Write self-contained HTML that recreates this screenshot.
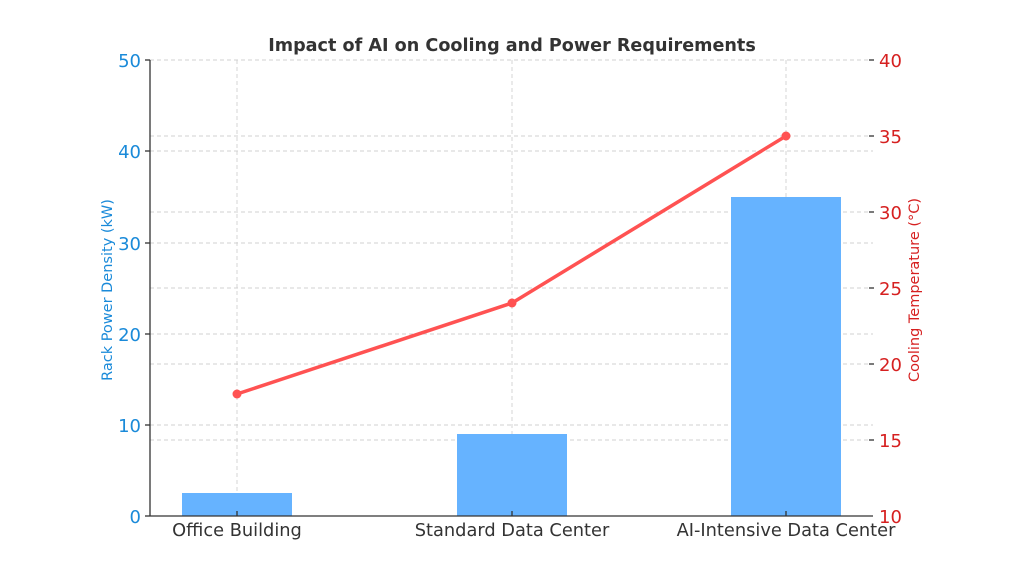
<!DOCTYPE html>
<html><head><meta charset="utf-8"><style>html,body{margin:0;padding:0;background:#fff}</style></head>
<body>
<svg width="1024" height="576" xmlns="http://www.w3.org/2000/svg" font-family="DejaVu Sans, Liberation Sans, sans-serif">
<rect width="1024" height="576" fill="#fff"/>
<g stroke="#d0d0d0" stroke-width="0.9" stroke-dasharray="4,3">
<line x1="150" y1="60" x2="873" y2="60"/>
<line x1="150" y1="151" x2="873" y2="151"/>
<line x1="150" y1="243" x2="873" y2="243"/>
<line x1="150" y1="334" x2="873" y2="334"/>
<line x1="150" y1="425" x2="873" y2="425"/>
<line x1="150" y1="136" x2="873" y2="136"/>
<line x1="150" y1="212" x2="873" y2="212"/>
<line x1="150" y1="288" x2="873" y2="288"/>
<line x1="150" y1="364" x2="873" y2="364"/>
<line x1="150" y1="440" x2="873" y2="440"/>
<line x1="237" y1="60" x2="237" y2="516"/>
<line x1="512" y1="60" x2="512" y2="516"/>
<line x1="786" y1="60" x2="786" y2="516"/>
</g>
<g fill="#66b3ff">
<rect x="182" y="493" width="110" height="23"/>
<rect x="457" y="434" width="110" height="82"/>
<rect x="731" y="197" width="110" height="319"/>
</g>
<polyline points="237,394 512,303 786,136" fill="none" stroke="#ff5252" stroke-width="3.5" stroke-linejoin="round"/>
<g fill="#ff5252"><circle cx="237" cy="394" r="4.5"/><circle cx="512" cy="303" r="4.5"/><circle cx="786" cy="136" r="4.5"/></g>
<g stroke="#333" stroke-width="1.3">
<line x1="150" y1="60" x2="150" y2="516"/>
<line x1="150" y1="516" x2="873" y2="516"/>
<line x1="145" y1="60" x2="150" y2="60"/><line x1="145" y1="151" x2="150" y2="151"/><line x1="145" y1="243" x2="150" y2="243"/><line x1="145" y1="334" x2="150" y2="334"/><line x1="145" y1="425" x2="150" y2="425"/><line x1="145" y1="516" x2="150" y2="516"/>
<line x1="869" y1="60" x2="874" y2="60"/><line x1="869" y1="136" x2="874" y2="136"/><line x1="869" y1="212" x2="874" y2="212"/><line x1="869" y1="288" x2="874" y2="288"/><line x1="869" y1="364" x2="874" y2="364"/><line x1="869" y1="440" x2="874" y2="440"/>
<line x1="237" y1="516" x2="237" y2="511"/><line x1="512" y1="516" x2="512" y2="511"/><line x1="786" y1="516" x2="786" y2="511"/>
</g>
<g fill="#1a8ad9" font-size="18" text-anchor="end">
<text x="141" y="67">50</text><text x="141" y="158">40</text><text x="141" y="250">30</text><text x="141" y="341">20</text><text x="141" y="432">10</text><text x="141" y="523">0</text>
</g>
<g fill="#d62020" font-size="18">
<text x="879" y="67">40</text><text x="879" y="143">35</text><text x="879" y="219">30</text><text x="879" y="295">25</text><text x="879" y="371">20</text><text x="879" y="447">15</text><text x="879" y="523">10</text>
</g>
<g fill="#333" font-size="17.8" text-anchor="middle">
<text x="237" y="536">Office Building</text><text x="512" y="536">Standard Data Center</text><text x="786" y="536">AI-Intensive Data Center</text>
</g>
<text x="512" y="51" font-size="17.6" font-weight="bold" fill="#333" text-anchor="middle">Impact of AI on Cooling and Power Requirements</text>
<text transform="translate(112,290) rotate(-90)" font-size="14.5" fill="#1a8ad9" text-anchor="middle">Rack Power Density (kW)</text>
<text transform="translate(919,290) rotate(-90)" font-size="14.5" fill="#d62020" text-anchor="middle">Cooling Temperature (°C)</text>
</svg>
</body></html>
